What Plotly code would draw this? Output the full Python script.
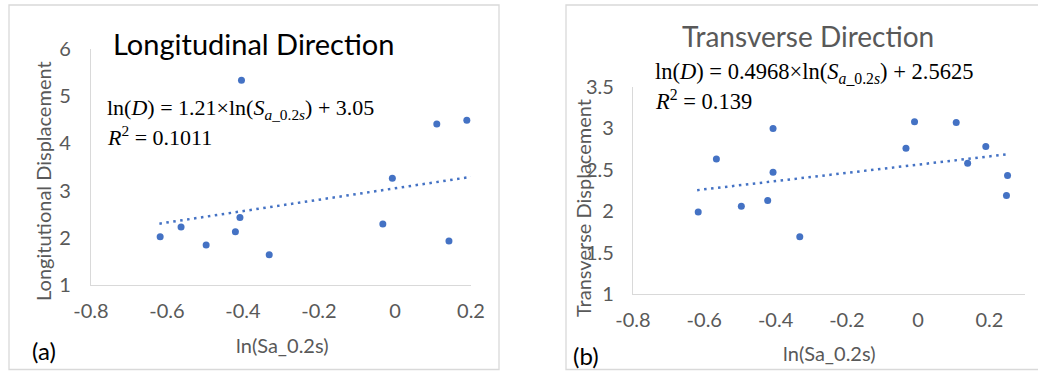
import plotly.graph_objects as go

# Panel (a): longitudinal
long_x = [-0.618, -0.563, -0.497, -0.420, -0.408, -0.404, -0.331, -0.032, -0.007, 0.110, 0.142, 0.189]
long_y = [2.02, 2.23, 1.85, 2.13, 2.43, 5.34, 1.64, 2.29, 3.26, 4.41, 1.93, 4.49]
long_trend_x = [-0.62, 0.20]
long_trend_y = [2.30, 3.29]

# Panel (b): transverse
trans_x = [-0.617, -0.566, -0.496, -0.422, -0.407, -0.407, -0.332, -0.034, -0.010, 0.107, 0.139, 0.190, 0.251, 0.248]
trans_y = [1.99, 2.63, 2.06, 2.13, 2.47, 3.00, 1.69, 2.76, 3.08, 3.07, 2.58, 2.78, 2.43, 2.19]
trans_trend_x = [-0.62, 0.25]
trans_trend_y = [2.254, 2.687]

x_ticks = [-0.8, -0.6, -0.4, -0.2, 0, 0.2]
x_tick_text = ["-0.8", "-0.6", "-0.4", "-0.2", "0", "0.2"]
long_y_ticks = [1, 2, 3, 4, 5, 6]
trans_y_ticks = [1, 1.5, 2, 2.5, 3, 3.5]
trans_y_text = ["1", "1.5", "2", "2.5", "3", "3.5"]

W, H = 1038, 371
BLUE = "#4472C4"
GRAY = "#595959"
LINE = "#D9D9D9"
SANS = "Lato"
SERIF = "Liberation Serif"

fig = go.Figure()
fig.add_trace(go.Scatter(x=long_x, y=long_y, mode="markers", marker=dict(color=BLUE, size=7),
                         xaxis="x", yaxis="y", showlegend=False))
fig.add_trace(go.Scatter(x=long_trend_x, y=long_trend_y, mode="lines",
                         line=dict(color=BLUE, width=2.5, dash="2.5px,4.5px"),
                         xaxis="x", yaxis="y", showlegend=False))
fig.add_trace(go.Scatter(x=trans_x, y=trans_y, mode="markers", marker=dict(color=BLUE, size=7),
                         xaxis="x2", yaxis="y2", showlegend=False))
fig.add_trace(go.Scatter(x=trans_trend_x, y=trans_trend_y, mode="lines",
                         line=dict(color=BLUE, width=2.5, dash="2.5px,4.5px"),
                         xaxis="x2", yaxis="y2", showlegend=False))

def px_x(p):
    return p / W

def px_y(p):
    return (H - p) / H

axis_common = dict(showgrid=False, zeroline=False, showline=True, linecolor=LINE, linewidth=1.3,
                   automargin=False, fixedrange=True,
                   tickfont=dict(family=SANS, size=20, color=GRAY), ticks="")

fig.update_layout(
    width=W, height=H, margin=dict(l=0, r=0, t=0, b=0, pad=0, autoexpand=False),
    paper_bgcolor="white", plot_bgcolor="white", hovermode=False,
    xaxis=dict(domain=[px_x(91), px_x(471)], range=[-0.8, 0.2], anchor="y",
               tickvals=x_ticks, ticktext=x_tick_text, ticklabelstandoff=8, **axis_common),
    yaxis=dict(domain=[px_y(285), px_y(49)], range=[1, 6], anchor="x",
               tickvals=long_y_ticks, ticklabelstandoff=15, **axis_common),
    xaxis2=dict(domain=[px_x(633), px_x(1025)], range=[-0.8, 0.3], anchor="y2",
                tickvals=x_ticks, ticktext=x_tick_text, ticklabelstandoff=8, **axis_common),
    yaxis2=dict(domain=[px_y(294), px_y(87)], range=[1, 3.5], anchor="x2",
                tickvals=trans_y_ticks, ticktext=trans_y_text, ticklabelstandoff=14, **axis_common),
)

# panel borders
fig.add_shape(type="rect", xref="paper", yref="paper", x0=px_x(9), x1=px_x(499), y0=px_y(369.5), y1=px_y(5),
              line=dict(color=LINE, width=1.3), fillcolor="rgba(0,0,0,0)", layer="below")
fig.add_shape(type="rect", xref="paper", yref="paper", x0=px_x(566), x1=px_x(1045), y0=px_y(369.5), y1=px_y(5),
              line=dict(color=LINE, width=1.3), fillcolor="rgba(0,0,0,0)", layer="below")

def ann(text, x, y, size, color, family, xanchor="center", angle=0):
    fig.add_annotation(text=text, x=px_x(x), y=px_y(y), xref="paper", yref="paper",
                       xanchor=xanchor, yanchor="middle", showarrow=False, textangle=angle,
                       font=dict(size=size, color=color, family=family))

# titles
ann("Longitudinal Direction", 253, 43, 29, "#000000", SANS)
ann("Transverse Direction", 808, 36, 28, GRAY, SANS)

# equations
ann("ln(<i>D</i>) = 1.21×ln(<i>S</i><sub><i>a</i>_0.2<i>s</i></sub>) + 3.05", 105, 109, 22, "#000000", SERIF, "left")
ann("<i>R</i><sup>2</sup> = 0.1011", 105, 136, 22, "#000000", SERIF, "left")
ann("ln(<i>D</i>) = 0.4968×ln(<i>S</i><sub><i>a</i>_0.2<i>s</i></sub>) + 2.5625", 653, 73, 22.5, "#000000", SERIF, "left")
ann("<i>R</i><sup>2</sup> = 0.139", 653, 100, 22.5, "#000000", SERIF, "left")

# axis titles
ann("Longitutional Displacement", 43, 181, 20, GRAY, SANS, angle=-90)
ann("Transverse Displacement", 583, 208, 20, GRAY, SANS, angle=-90)
ann("ln(Sa_0.2s)", 282, 345, 20, GRAY, SANS)
ann("ln(Sa_0.2s)", 829, 353, 20, GRAY, SANS)

# panel labels
ann("(a)", 43.5, 350, 24, "#000000", SANS)
ann("(b)", 586, 355, 24, "#000000", SANS)

fig.write_html("out.html", config={"displayModeBar": False},
               post_script="document.body.style.margin='0';")
